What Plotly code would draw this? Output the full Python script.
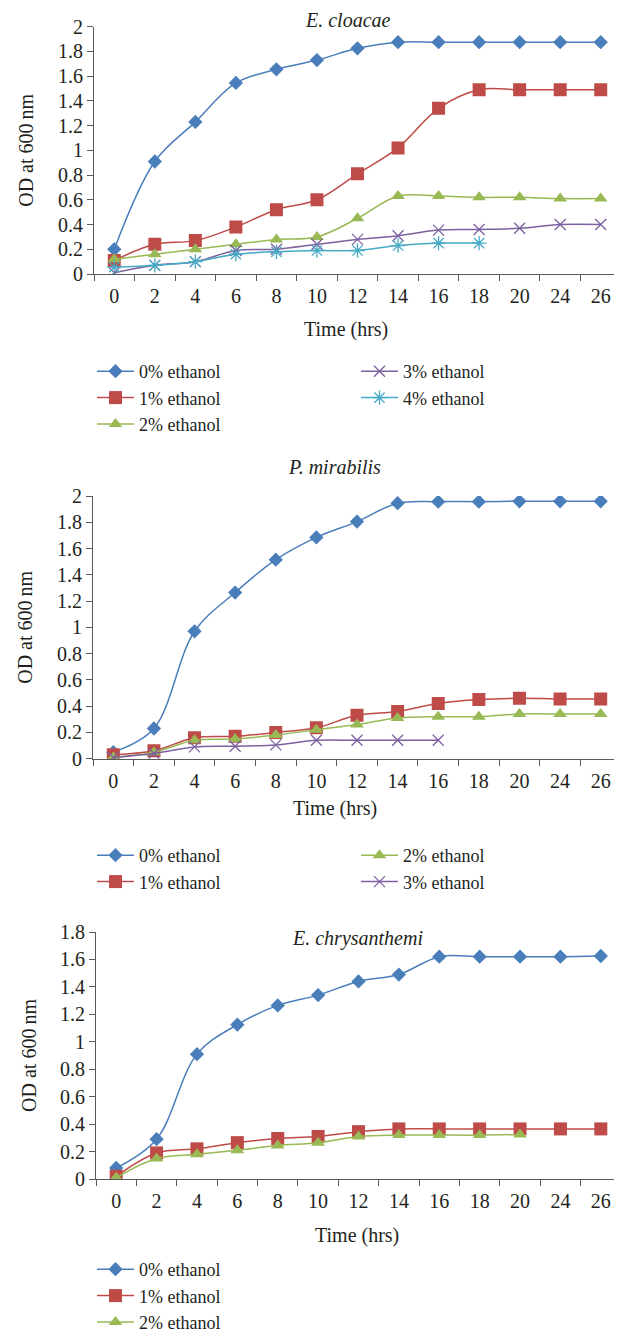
import plotly.graph_objects as go

# ---------------- data ----------------
time_labels = ["0", "2", "4", "6", "8", "10", "12", "14", "16", "18", "20", "24", "26"]

series_names = ["0% ethanol", "1% ethanol", "2% ethanol", "3% ethanol", "4% ethanol"]

# E. cloacae
ecl_0 = [0.20, 0.91, 1.23, 1.545, 1.655, 1.73, 1.825, 1.875, 1.875, 1.875, 1.875, 1.875, 1.875]
ecl_1 = [0.11, 0.24, 0.27, 0.38, 0.52, 0.60, 0.81, 1.02, 1.34, 1.49, 1.49, 1.49, 1.49]
ecl_2 = [0.12, 0.16, 0.20, 0.24, 0.28, 0.30, 0.45, 0.63, 0.63, 0.62, 0.62, 0.61, 0.61]
ecl_3 = [0.01, 0.07, 0.10, 0.19, 0.20, 0.24, 0.28, 0.31, 0.355, 0.36, 0.37, 0.40, 0.40]
ecl_4 = [0.055, 0.07, 0.10, 0.16, 0.18, 0.19, 0.19, 0.23, 0.25, 0.25]

# P. mirabilis
pm_0 = [0.05, 0.23, 0.97, 1.265, 1.515, 1.685, 1.805, 1.945, 1.957, 1.957, 1.96, 1.96, 1.96]
pm_1 = [0.03, 0.06, 0.16, 0.17, 0.20, 0.235, 0.33, 0.36, 0.42, 0.45, 0.46, 0.455, 0.455]
pm_2 = [0.01, 0.05, 0.14, 0.15, 0.18, 0.22, 0.26, 0.31, 0.32, 0.32, 0.34, 0.34, 0.34]
pm_3 = [0.01, 0.04, 0.09, 0.095, 0.105, 0.14, 0.14, 0.14, 0.14]

# E. chrysanthemi
ech_0 = [0.08, 0.29, 0.91, 1.125, 1.265, 1.34, 1.44, 1.49, 1.62, 1.62, 1.62, 1.62, 1.625]
ech_1 = [0.02, 0.19, 0.22, 0.265, 0.295, 0.31, 0.345, 0.365, 0.365, 0.365, 0.365, 0.365, 0.365]
ech_2 = [0.01, 0.15, 0.18, 0.21, 0.245, 0.265, 0.31, 0.32, 0.32, 0.32, 0.325]

panel_titles = ["E. cloacae", "P. mirabilis", "E. chrysanthemi"]
x_title = "Time (hrs)"
y_title = "OD at 600\u2009nm"

# ---------------- styles ----------------
colors = ["#4A7EBB", "#BE4B48", "#98B954", "#7D60A0", "#46AAC5"]
symbols = ["diamond", "square", "triangle-up", "x-thin-open", "asterisk-open"]
msizes = [11, 13, 12, 11, 12]
FONT = "Liberation Serif"
TXT = "#231f20"
AX = "#595959"
PAGE_OFF = 8          # default body margin of the html page
W, H = 622 - PAGE_OFF, 1337 - PAGE_OFF

fig = go.Figure()


def add(vals, idx, xa, ya, legend):
    sym = symbols[idx]
    mk = dict(symbol=sym, size=msizes[idx], color=colors[idx])
    if "open" in sym:
        mk["line"] = dict(color=colors[idx], width=1.3)
    else:
        mk["line"] = dict(width=0)
    fig.add_trace(go.Scatter(
        x=time_labels[:len(vals)], y=vals, name=series_names[idx],
        mode="lines+markers", line=dict(color=colors[idx], width=1.5, shape="spline", smoothing=1),
        marker=mk, xaxis=xa, yaxis=ya, legend=legend,
    ))


add(ecl_0, 0, "x", "y", "legend")
add(ecl_1, 1, "x", "y", "legend")
add(ecl_2, 2, "x", "y", "legend")
add(ecl_3, 3, "x", "y", "legend2")
add(ecl_4, 4, "x", "y", "legend2")

add(pm_0, 0, "x2", "y2", "legend3")
add(pm_1, 1, "x2", "y2", "legend3")
add(pm_2, 2, "x2", "y2", "legend4")
add(pm_3, 3, "x2", "y2", "legend4")

add(ech_0, 0, "x3", "y3", "legend5")
add(ech_1, 1, "x3", "y3", "legend5")
add(ech_2, 2, "x3", "y3", "legend5")


def px(x):
    return (x - PAGE_OFF) / W


def py(y):
    return 1 - (y - PAGE_OFF) / H


def xax(domain, anchor):
    return dict(
        type="category", categoryorder="array", categoryarray=time_labels,
        range=[-0.5, len(time_labels) - 0.5], domain=domain, anchor=anchor,
        showline=True, linecolor=AX, linewidth=1, ticks="outside", tickson="boundaries",
        ticklen=6, tickcolor=AX, showgrid=False, zeroline=False, automargin=False,
        tickfont=dict(family=FONT, size=20, color=TXT), ticklabelstandoff=4,
    )


def yax(domain, anchor, top):
    return dict(
        range=[0, top], dtick=0.2, domain=domain, anchor=anchor,
        showline=True, linecolor=AX, linewidth=1, ticks="outside", ticklen=6,
        tickcolor=AX, showgrid=False, zeroline=False, automargin=False,
        tickfont=dict(family=FONT, size=20, color=TXT),
        title=dict(text=y_title, font=dict(family=FONT, size=20, color=TXT), standoff=18),
    )


def leg(x, ytop):
    return dict(
        x=px(x), y=py(ytop), xanchor="left", yanchor="top", orientation="v",
        font=dict(family=FONT, size=18, color=TXT), bgcolor="rgba(0,0,0,0)",
        tracegroupgap=0, itemclick=False, itemdoubleclick=False, itemwidth=37,
    )


fig.update_layout(
    width=W, height=H, margin=dict(l=0, r=0, t=0, b=0, autoexpand=False),
    paper_bgcolor="white", plot_bgcolor="white", showlegend=True,
    xaxis=xax([px(94), px(621)], "y"),
    yaxis=yax([py(274), py(26.7)], "x", 2),
    xaxis2=xax([px(93), px(621)], "y2"),
    yaxis2=yax([py(758.7), py(496)], "x2", 2),
    xaxis3=xax([px(96), px(621)], "y3"),
    yaxis3=yax([py(1179), py(932)], "x3", 1.8),
    legend=leg(92, 353),
    legend2=leg(356, 353),
    legend3=leg(92, 837),
    legend4=leg(356, 837),
    legend5=leg(92, 1251),
)

annos = [
    (panel_titles[0], 348, 8, "top"),
    (panel_titles[1], 334, 467, "middle"),
    (panel_titles[2], 357, 938, "middle"),
    (x_title, 346, 330, "middle"),
    (x_title, 335, 808, "middle"),
    (x_title, 357, 1235, "middle"),
]
for i, (text, x, y, anchor) in enumerate(annos):
    fig.add_annotation(
        text=f"<i>{text}</i>" if i < 3 else text, x=px(x), y=py(y), xref="paper", yref="paper",
        xanchor="center", yanchor=anchor, showarrow=False, borderpad=0,
        font=dict(family=FONT, size=20, color=TXT),
    )

fig.write_html("out.html")
